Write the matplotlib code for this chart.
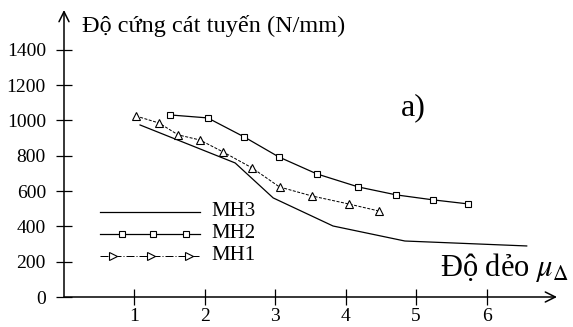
import matplotlib
matplotlib.use("Agg")
import matplotlib.pyplot as plt
from matplotlib.lines import Line2D

plt.rcParams["font.family"] = ["Liberation Serif", "DejaVu Serif"]
plt.rcParams["mathtext.fontset"] = "stix"

# Ductility (x) vs secant stiffness (N/mm) for three models
mh3_x = [1.08, 2.43, 2.97, 3.82, 4.84, 6.57]
mh3_y = [974, 759, 561, 402, 317, 289]

mh2_x = [1.50, 2.04, 2.56, 3.05, 3.59, 4.18, 4.72, 5.24, 5.74]
mh2_y = [1031, 1014, 906, 793, 697, 623, 578, 550, 527]

mh1_x = [1.02, 1.35, 1.62, 1.93, 2.26, 2.67, 3.06, 3.52, 4.04, 4.47]
mh1_y = [1025, 985, 918, 889, 821, 731, 623, 572, 527, 487]

x_ticks = [1, 2, 3, 4, 5, 6]
y_ticks = [0, 200, 400, 600, 800, 1000, 1200, 1400]

W, H = 573, 327
fig = plt.figure(figsize=(W / 100, H / 100), dpi=100)
ax = fig.add_axes([64 / W, 30 / H, (557 - 64) / W, (297 - 10) / H])
ax.set_xlim(0, 7)
ax.set_ylim(0, 1625)

lw = 0.9
ax.plot(mh3_x, mh3_y, color="black", lw=lw)
ax.plot(mh2_x, mh2_y, color="black", lw=lw, marker="s", ms=5,
        mfc="white", mec="black", mew=0.8)
ax.plot(mh1_x, mh1_y, color="black", lw=lw * 0.8, ls=(0, (3, 1.5)),
        marker="^", ms=6, mfc="white", mec="black", mew=0.8)

# axes drawn as arrows
for s in ax.spines.values():
    s.set_visible(False)
arrow = dict(arrowstyle="->", color="black", lw=1.1,
             mutation_scale=18, shrinkA=0, shrinkB=0)
ax.annotate("", xy=(1, 0), xytext=(0, 0), xycoords="axes fraction",
            arrowprops=arrow, annotation_clip=False)
ax.annotate("", xy=(0, 1), xytext=(0, 0), xycoords="axes fraction",
            arrowprops=arrow, annotation_clip=False)

ax.set_xticks(x_ticks)
ax.set_yticks(y_ticks)
ax.set_xticklabels([str(v) for v in x_ticks])
ax.set_yticklabels([str(v) for v in y_ticks])
ax.tick_params(axis="both", direction="inout", length=12, width=0.9,
               labelsize=14, color="black")
ax.tick_params(axis="x", pad=2)
ax.tick_params(axis="y", pad=7)

# legend drawn by hand
leg_y = [212, 234, 256]
def fy(py):
    return 1 - py / H
def fx(px):
    return px / W
fig.add_artist(Line2D([fx(100), fx(200)], [fy(leg_y[0])] * 2,
                      color="black", lw=lw))
fig.add_artist(Line2D([fx(100), fx(200)], [fy(leg_y[1])] * 2,
                      color="black", lw=lw))
fig.add_artist(Line2D([fx(122), fx(153), fx(186)], [fy(leg_y[1])] * 3,
                      ls="none", marker="s", ms=5, mfc="white",
                      mec="black", mew=0.8))
fig.add_artist(Line2D([fx(100), fx(200)], [fy(leg_y[2])] * 2,
                      color="black", lw=lw * 0.8, ls=(0, (8, 2, 1, 2))))
fig.add_artist(Line2D([fx(113), fx(151), fx(189)], [fy(leg_y[2])] * 3,
                      ls="none", marker=">", ms=6, mfc="white",
                      mec="black", mew=0.8))
for py, lab in zip(leg_y, ["MH3", "MH2", "MH1"]):
    fig.text(fx(211), fy(py), lab, fontsize=15, va="center", ha="left")

fig.text(fx(82), fy(26), "Độ cứng cát tuyến (N/mm)", fontsize=17.5,
         va="center", ha="left")
fig.text(fx(401), fy(108), "a)", fontsize=23, va="center", ha="left")
fig.text(fx(440), fy(267), r"Độ dẻo $\mu_{\Delta}$", fontsize=22,
         va="center", ha="left")

fig.savefig("out.png", dpi=100)
